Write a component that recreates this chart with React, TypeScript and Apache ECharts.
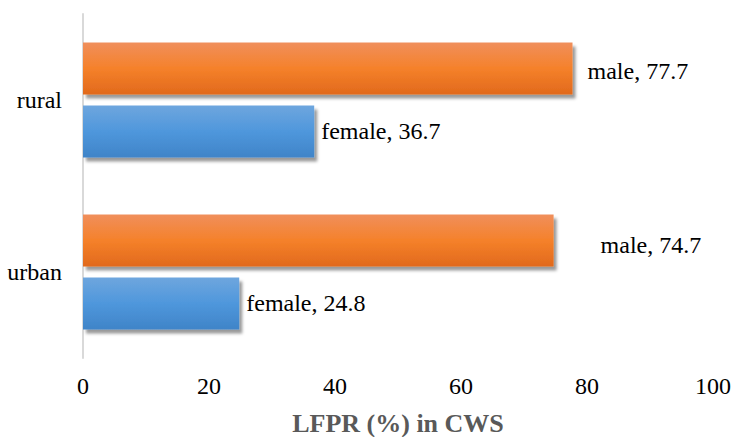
import React, { useEffect, useRef } from "react";
import * as echarts from "echarts";

const categories = ["urban", "rural"];
const femaleValues = [24.8, 36.7];
const maleValues = [74.7, 77.7];
const xTicks = [0, 20, 40, 60, 80, 100];

const orangeGrad = new echarts.graphic.LinearGradient(0, 0, 0, 1, [
  { offset: 0, color: "#f08f5c" },
  { offset: 0.5, color: "#f5812a" },
  { offset: 1, color: "#e1691c" },
]);
const blueGrad = new echarts.graphic.LinearGradient(0, 0, 0, 1, [
  { offset: 0, color: "#6ea6de" },
  { offset: 0.5, color: "#4f97dc" },
  { offset: 1, color: "#3f84c8" },
]);

export default function App() {
  const ref = useRef<HTMLDivElement>(null);
  useEffect(() => {
    if (!ref.current) return;
    const chart = echarts.init(ref.current, null, { renderer: "svg" });
    const font = "Liberation Serif";
    const itemShadow = {
      shadowColor: "rgba(0,0,0,0.4)",
      shadowBlur: 3,
      shadowOffsetX: 3,
      shadowOffsetY: 4,
    };
    const maleOffsets = [[40, 4], [8, 2]];
    const labelStyle = {
      show: true,
      position: "right",
      distance: 7,
      formatter: "{a}, {c}",
      fontFamily: font,
      fontSize: 24,
      color: "#000",
    };
    chart.setOption({
      animation: false,
      textStyle: { fontFamily: font },
      grid: { left: 83, right: 19, top: 14, bottom: 79, containLabel: false, outerBoundsMode: "none" },
      xAxis: {
        type: "value",
        min: xTicks[0],
        max: xTicks[xTicks.length - 1],
        interval: 20,
        splitLine: { show: false },
        axisLine: { show: false },
        axisTick: { show: false },
        axisLabel: { fontFamily: font, fontSize: 24, color: "#000", margin: 16 },
        name: "LFPR (%) in CWS",
        nameLocation: "middle",
        nameGap: 52,
        nameTextStyle: { fontFamily: font, fontSize: 26, fontWeight: "bold", color: "#595959" },
      },
      yAxis: {
        type: "category",
        data: categories,
        axisLine: { show: true, lineStyle: { color: "#d9d9d9", width: 2 } },
        axisTick: { show: false },
        axisLabel: { fontFamily: font, fontSize: 24, color: "#000", margin: 21 },
      },
      series: [
        {
          name: "male",
          type: "bar",
          barWidth: 52,
          barGap: "21%",
          data: maleValues.map((v, i) => ({
            value: v,
            label: { offset: maleOffsets[i] },
          })),
          itemStyle: { color: orangeGrad, ...itemShadow },
          label: labelStyle,
        },
        {
          name: "female",
          type: "bar",
          data: femaleValues,
          barWidth: 52,
          barGap: "21%",
          itemStyle: { color: blueGrad, ...itemShadow },
          label: labelStyle,
        },
      ],
    });
    return () => chart.dispose();
  }, []);
  return (
    <div
      ref={ref}
      style={{ position: "fixed", left: 0, top: 0, width: 732, height: 437, background: "#fff" }}
    />
  );
}
